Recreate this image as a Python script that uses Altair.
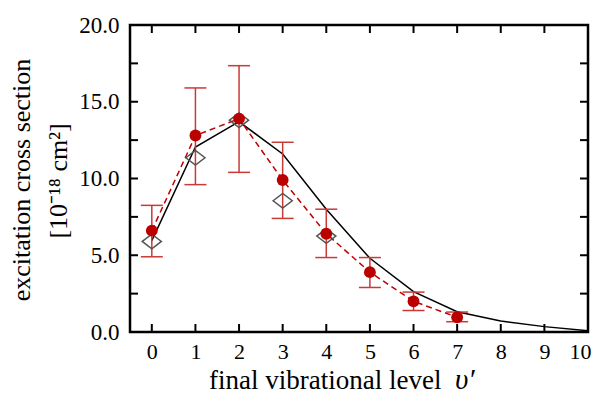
import altair as alt
import pandas as pd

# ---- data ----
levels = [0, 1, 2, 3, 4, 5, 6, 7]
measured = [6.6, 12.8, 13.9, 9.9, 6.4, 3.9, 2.0, 0.96]
err_low = [4.9, 9.6, 10.4, 7.4, 4.85, 2.9, 1.4, 0.67]
err_high = [8.25, 15.9, 17.35, 12.36, 8.0, 4.85, 2.6, 1.3]

theory_levels = [0, 1, 2, 3, 4, 5, 6, 7, 8, 9, 10]
theory = [5.95, 12.05, 13.7, 11.6, 8.0, 4.8, 2.63, 1.32, 0.72, 0.35, 0.08]

calc_levels = [0, 1, 2, 3, 4]
calc = [5.9, 11.35, 13.8, 8.55, 6.25]

x_ticks = [0, 1, 2, 3, 4, 5, 6, 7, 8, 9, 10]
y_ticks = [2.5, 5, 7.5, 10, 12.5, 15, 17.5]
y_labels = [0, 5, 10, 15, 20]

y_title_1 = "excitation cross section"
y_title_2 = "[10\u207b\u00b9\u2078 cm\u00b2]"
x_title = "final vibrational level"
x_symbol = "\u03c5\u2032"

# ---- styling ----
W, H = 458, 307
FONT = "Liberation Serif"
RED = "#bb0000"
ERR = "#c83a36"
TL = 8

xs = alt.Scale(domain=[-0.5, 10], nice=False, zero=False)
ys = alt.Scale(domain=[0, 20], nice=False, zero=False)

meas_df = pd.DataFrame({"v": levels, "s": measured, "lo": err_low, "hi": err_high})
theo_df = pd.DataFrame({"v": theory_levels, "s": theory})
calc_df = pd.DataFrame({"v": calc_levels, "s": calc})
xt_df = pd.DataFrame({"t": x_ticks})
yt_df = pd.DataFrame({"t": y_ticks})

x_axis = alt.Axis(values=x_ticks, ticks=False, domain=False, grid=False,
                  labelFont=FONT, labelFontSize=22, labelColor="black",
                  labelPadding=9, labelFlush=True, labelFlushOffset=3,
                  labelOverlap=False, title=None)
y_axis = alt.Axis(values=y_labels, format=".1f", ticks=False, domain=False, grid=False,
                  labelFont=FONT, labelFontSize=23, labelColor="black",
                  labelPadding=11, labelFlush=False, labelOverlap=False, title=None)


def X(field):
    return alt.X(field, scale=xs, axis=x_axis)


def Y(field):
    return alt.Y(field, scale=ys, axis=y_axis)


theory_line = alt.Chart(theo_df).mark_line(color="black", strokeWidth=1.5).encode(
    x=X("v:Q"), y=Y("s:Q"))

meas_line = alt.Chart(meas_df).mark_line(color="#c00000", strokeWidth=1.5, strokeDash=[6, 4]).encode(
    x=X("v:Q"), y=Y("s:Q"))

err_rule = alt.Chart(meas_df).mark_rule(color=ERR, strokeWidth=1.5).encode(
    x=X("v:Q"), y=Y("lo:Q"), y2="hi:Q")
cap_lo = alt.Chart(meas_df).mark_tick(orient="horizontal", size=22, thickness=1.5, color=ERR, opacity=1).encode(
    x=X("v:Q"), y=Y("lo:Q"))
cap_hi = alt.Chart(meas_df).mark_tick(orient="horizontal", size=22, thickness=1.5, color=ERR, opacity=1).encode(
    x=X("v:Q"), y=Y("hi:Q"))

diamonds = alt.Chart(calc_df).mark_point(
    shape="M -1.3,0 L 0,-1 L 1.3,0 L 0,1 Z", size=216, filled=False,
    stroke="#555555", strokeWidth=1.5, opacity=1).encode(
    x=X("v:Q"), y=Y("s:Q"))

dots = alt.Chart(meas_df).mark_point(shape="circle", filled=True, size=140, color=RED, opacity=1).encode(
    x=X("v:Q"), y=Y("s:Q"))

tick_bottom = alt.Chart(xt_df).mark_rule(color="black", strokeWidth=2).encode(
    x=X("t:Q"), y=alt.value(H), y2=alt.value(H - TL))
tick_top = alt.Chart(xt_df).mark_rule(color="black", strokeWidth=2).encode(
    x=X("t:Q"), y=alt.value(0), y2=alt.value(TL))
tick_left = alt.Chart(yt_df).mark_rule(color="black", strokeWidth=2).encode(
    y=Y("t:Q"), x=alt.value(0), x2=alt.value(TL))
tick_right = alt.Chart(yt_df).mark_rule(color="black", strokeWidth=2).encode(
    y=Y("t:Q"), x=alt.value(W), x2=alt.value(W - TL))


def label(text, x, y, size=26, angle=0, align="center", style="normal"):
    return alt.Chart(pd.DataFrame({"t": [text]})).mark_text(
        font=FONT, fontSize=size, angle=angle, align=align, baseline="alphabetic",
        fontStyle=style, color="black").encode(text="t:N", x=alt.value(x), y=alt.value(y))


yt1 = label(y_title_1, -100, 155, angle=270)
yt2 = label(y_title_2, -63, 156, angle=270)
xt1 = label(x_title, 79, 364, size=27, align="left")
xt2 = label(x_symbol, 325, 364, size=29, align="left", style="italic")

chart = alt.layer(
    theory_line, meas_line, err_rule, cap_lo, cap_hi, diamonds, dots,
    tick_bottom, tick_top, tick_left, tick_right,
    yt1, yt2, xt1, xt2,
).properties(
    width=W, height=H,
    autosize=alt.AutoSizeParams(type="none"),
    padding={"left": 122, "top": 17, "right": 5, "bottom": 62},
).configure_view(stroke="black", strokeWidth=2.5)

chart.save("out.html", embed_options={"renderer": "svg", "actions": False})
